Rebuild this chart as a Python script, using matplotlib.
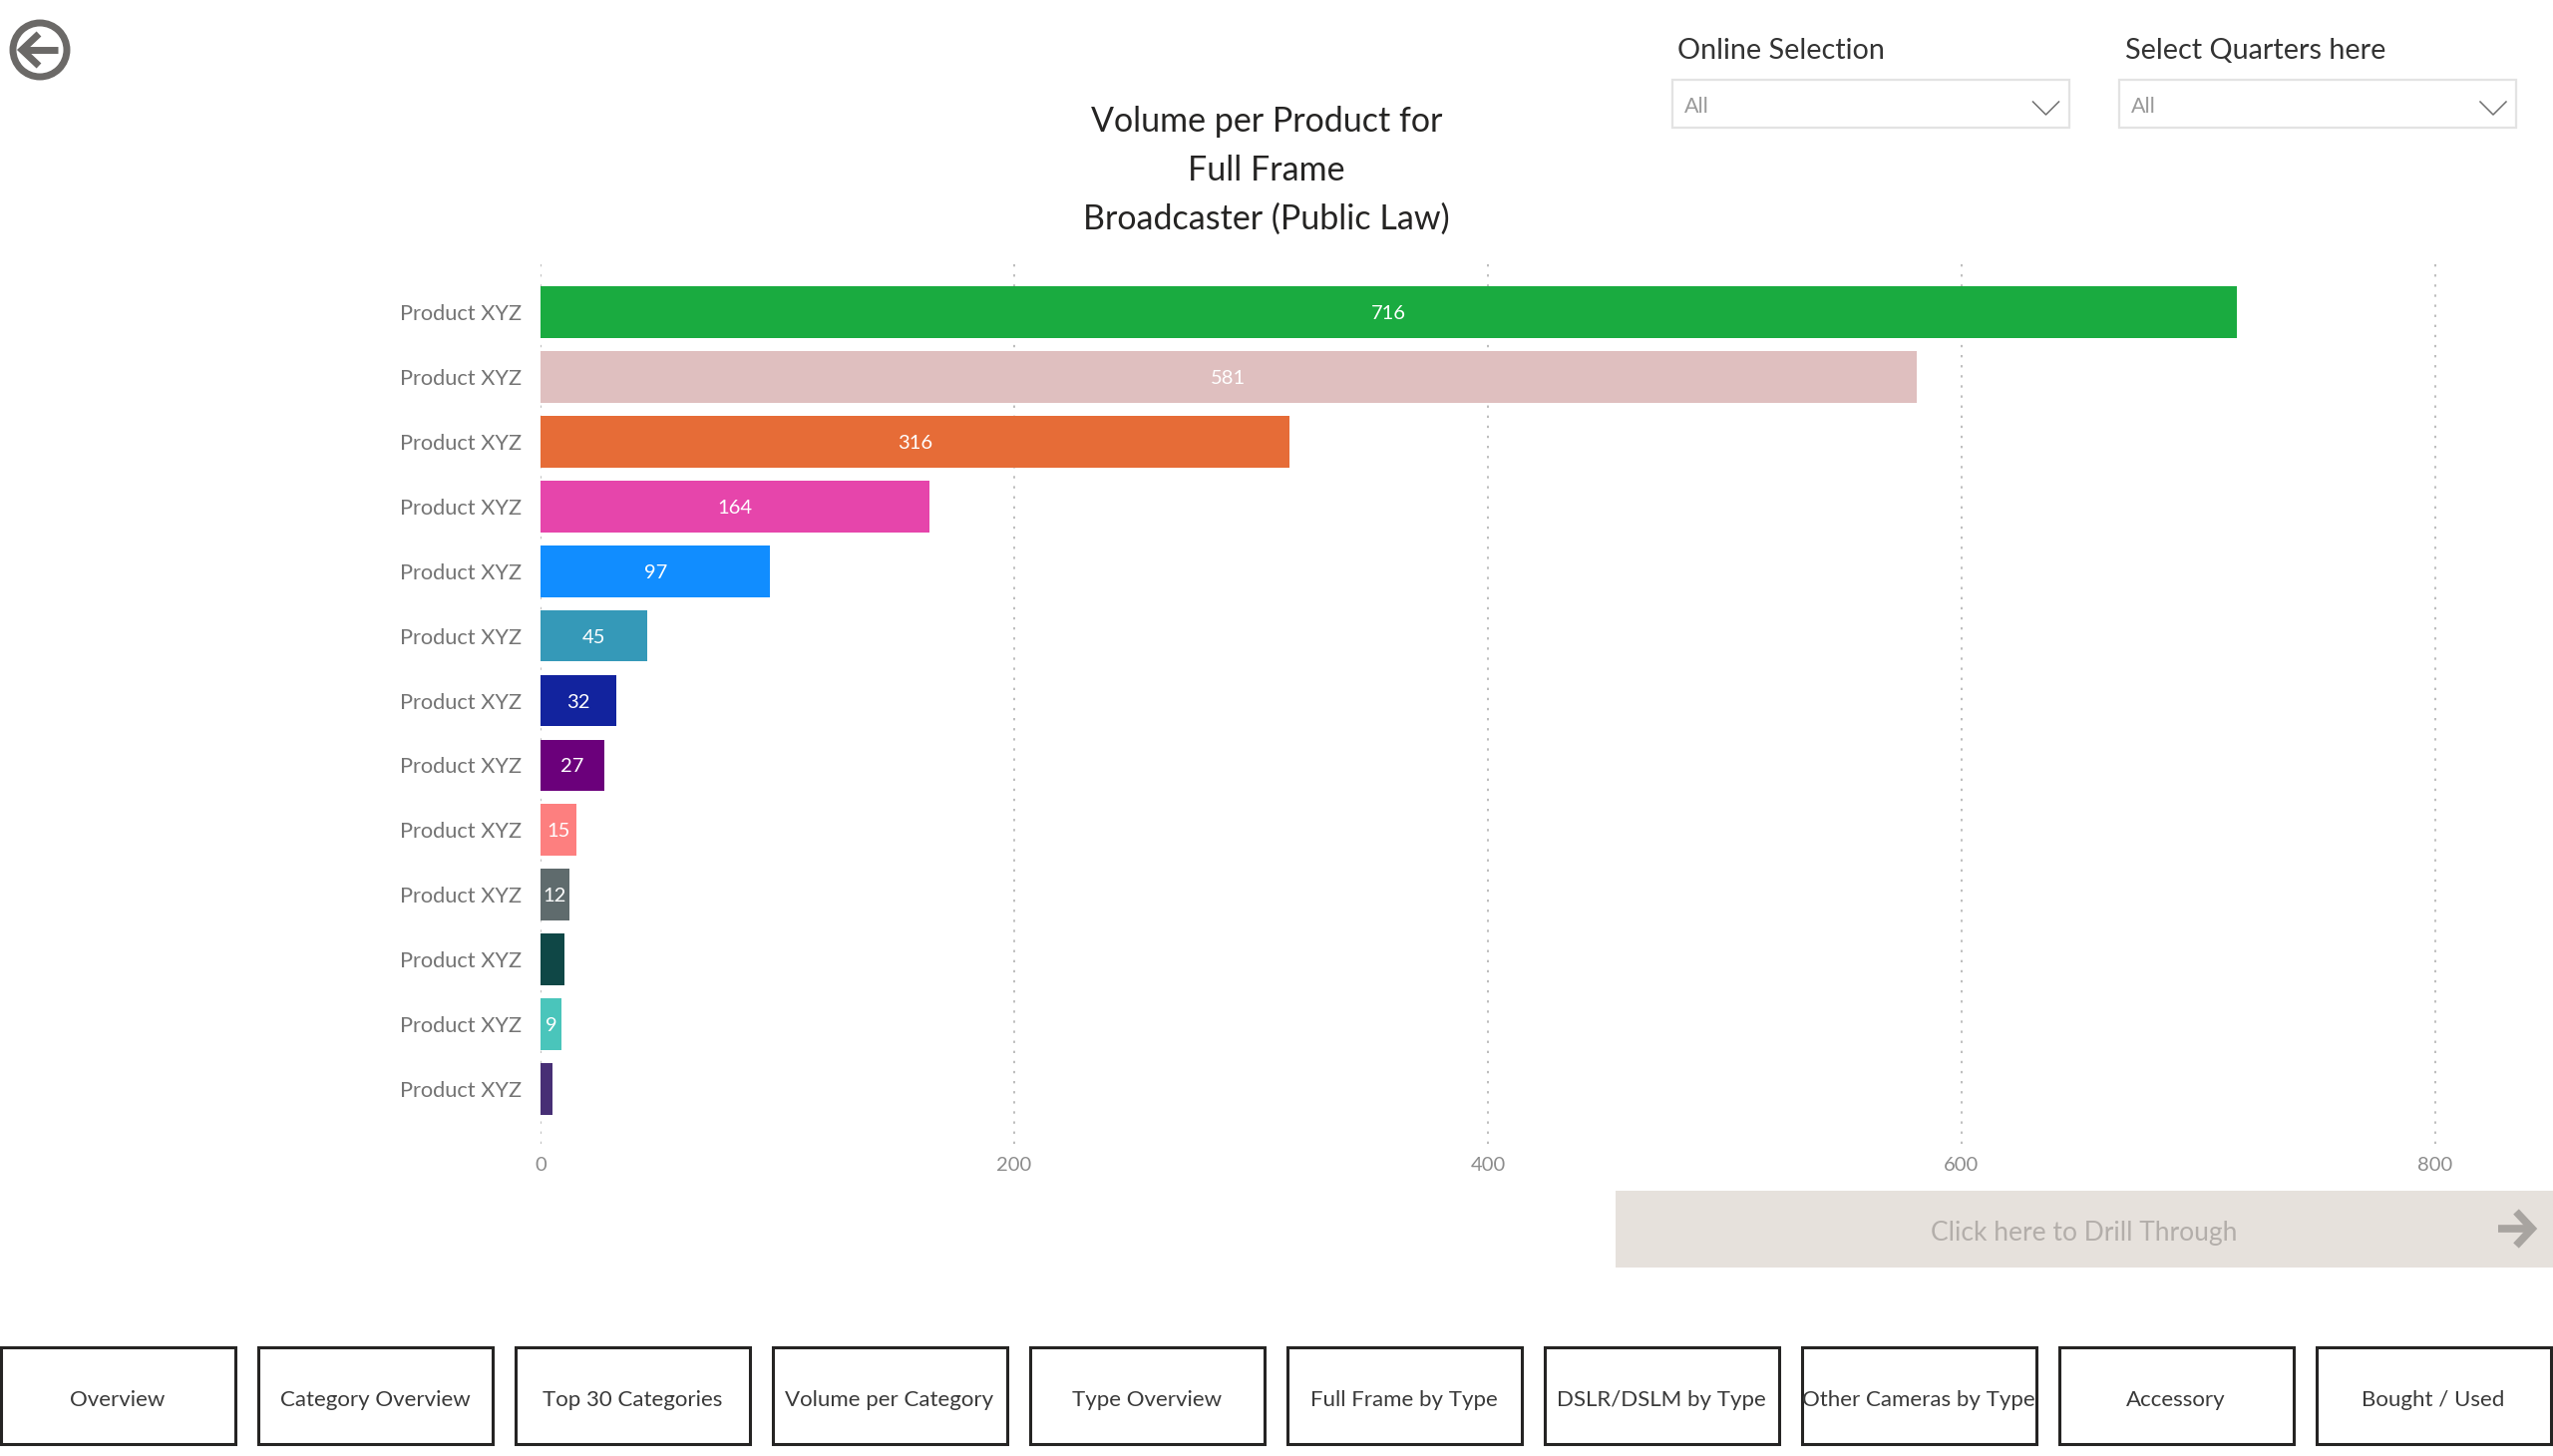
import matplotlib
matplotlib.use("Agg")
from matplotlib import pyplot as plt
from matplotlib.patches import Rectangle, Ellipse

plt.rcParams['font.family'] = ['Lato', 'DejaVu Sans']

products = ["Product XYZ"] * 13
volumes = [716, 581, 316, 164, 97, 45, 32, 27, 15, 12, 10, 9, 5]
value_labels = ["716", "581", "316", "164", "97", "45", "32", "27", "15", "12", "", "9", ""]
bar_colors = ["#1AAB40", "#DFBFBF", "#E66C37", "#E645AB", "#118DFF", "#3599B8", "#12239E",
              "#6B007B", "#FD7F7F", "#5F6B6D", "#0F4746", "#4AC5BB", "#472F75"]
x_ticks = [0, 200, 400, 600, 800]
title_lines = ["Volume per Product for", "Full Frame", "Broadcaster (Public Law)"]
nav_buttons = ["Overview", "Category Overview", "Top 30 Categories", "Volume per Category",
               "Type Overview", "Full Frame by Type", "DSLR/DSLM by Type",
               "Other Cameras by Type", "Accessory", "Bought / Used"]

W, H = 2560, 1460
fig = plt.figure(figsize=(W / 100, H / 100), dpi=100, facecolor="white")

# chart, placed by pixel box
left, right, top, bottom = 542, 2470, 263, 1147
ax = fig.add_axes([left / W, 1 - bottom / H, (right - left) / W, (bottom - top) / H])
ax.set_xlim(0, (right - left) / 2.375)
ax.set_ylim(12.85, -0.773)
bars = ax.barh(range(len(volumes)), volumes, height=0.797, color=bar_colors, zorder=3)
bar_texts = ax.bar_label(bars, labels=value_labels, label_type="center", color="white", fontsize=14.5, zorder=4)
for t in bar_texts:
    t.set_va("center_baseline")
ax.set_yticks(range(len(products)), products)
ax.set_xticks(x_ticks)
ax.tick_params(axis="y", length=0, pad=13.5, labelsize=15.7, labelcolor="#747474")
ax.tick_params(axis="x", length=0, pad=9, labelsize=14.5, labelcolor="#8c8c8c")
ax.grid(axis="x", color="#bdbdbd", linewidth=1.4, linestyle=(0, (1.2, 4)), zorder=0)
ax.grid(axis="y", visible=False)
ax.set_axisbelow(True)
for s in ax.spines.values():
    s.set_visible(False)

# page furniture in pixel coordinates
ui = fig.add_axes([0, 0, 1, 1], zorder=5)
ui.set_xlim(0, W)
ui.set_ylim(H, 0)
ui.axis("off")
ui.patch.set_alpha(0)

# back button
icon = "#6b6967"
ui.add_patch(Ellipse((40, 50), 54, 54, fill=False, edgecolor=icon, linewidth=5))
ui.plot([22, 58], [50, 50], color=icon, linewidth=5, solid_capstyle="butt")
ui.plot([39, 22, 39], [34, 50, 66], color=icon, linewidth=5, solid_joinstyle="miter", solid_capstyle="butt")

for i, line in enumerate(title_lines):
    ui.text(1270, 122 + i * 49, line, ha="center", va="center", fontsize=24.5, color="#252423")

# slicers
for x0, label in [(1676.5, "Online Selection"), (2125, "Select Quarters here")]:
    ui.text(x0 + 6, 51, label, ha="left", va="center", fontsize=20.7, color="#333333")
    ui.add_patch(Rectangle((x0, 80), 398, 48, facecolor="white", edgecolor="#e3e3e3", linewidth=1.6))
    ui.text(x0 + 12, 107, "All", ha="left", va="center", fontsize=15.5, color="#9a9a9a")
    ui.plot([x0 + 362, x0 + 375, x0 + 388], [102, 115, 102], color="#707070", linewidth=1.1)

# drill through banner
ui.add_patch(Rectangle((1620, 1194), 940, 77, facecolor="#E6E1DC", edgecolor="none"))
ui.text(2090, 1236.5, "Click here to Drill Through", ha="center", va="center",
        fontsize=19, color="#b3aeaa")
ui.plot([2505, 2539], [1232, 1232], color="#a8a4a0", linewidth=5.5, solid_capstyle="butt")
ui.plot([2523, 2539, 2523], [1215, 1232, 1249], color="#a8a4a0", linewidth=5.5,
        solid_joinstyle="miter", solid_capstyle="butt")

# navigation buttons
for i, name in enumerate(nav_buttons):
    x0 = i * 258
    ui.add_patch(Rectangle((x0 + 1, 1351), 235, 97, facecolor="white", edgecolor="#252423", linewidth=2.2))
    ui.text(x0 + 118, 1403.5, name, ha="center", va="center", fontsize=16, color="#3a3a3a")

fig.savefig("out.png", dpi=100)
